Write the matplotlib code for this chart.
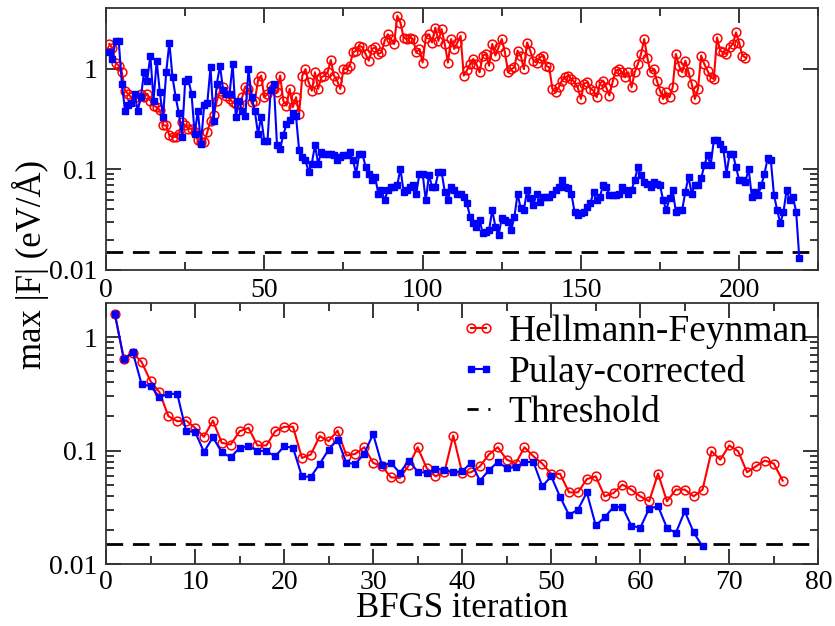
import numpy as np
import matplotlib
matplotlib.use("Agg")
import matplotlib.pyplot as plt
from matplotlib.lines import Line2D
from matplotlib.legend_handler import HandlerLine2D
from matplotlib.ticker import FixedLocator, NullFormatter, MultipleLocator

plt.rcParams['font.family'] = ['Liberation Serif', 'DejaVu Serif']
plt.rcParams['mathtext.fontset'] = 'stix'

# ---------------- data ----------------
top_pulay = [
    # iterations 1-58
    1.45, 1.25, 1.89, 1.89, 0.71, 0.38, 0.44, 0.46, 0.56, 0.38, 0.52, 0.92, 0.76, 1.35,
    0.48, 1.20, 0.58, 0.33, 0.92, 1.82, 0.82, 0.52, 0.36, 0.21, 0.76, 0.79, 0.56, 0.225,
    0.38, 0.18, 0.44, 0.46, 1.03, 0.30, 0.71, 1.07, 0.61, 0.56, 0.56, 1.11, 0.33, 0.48,
    0.38, 0.34, 0.99, 0.52, 0.38, 0.225, 0.33, 0.19, 0.19, 0.61, 0.71, 0.175, 0.16, 0.22,
    0.28, 0.31,
    # 59-115
    0.36, 0.34, 0.154, 0.132, 0.123, 0.094, 0.114, 0.173, 0.114, 0.148, 0.143, 0.143,
    0.143, 0.138, 0.123, 0.132, 0.138, 0.138, 0.148, 0.123, 0.0905, 0.143, 0.143, 0.105,
    0.0905, 0.078, 0.084, 0.057, 0.062, 0.049, 0.062, 0.067, 0.067, 0.0695, 0.1016,
    0.0597, 0.062, 0.067, 0.0695, 0.057, 0.0905, 0.0905, 0.049, 0.087, 0.067, 0.067,
    0.094, 0.094, 0.0597, 0.049, 0.067, 0.062, 0.057, 0.057, 0.053, 0.0457, 0.0337,
    # 116-172
    0.029, 0.0268, 0.0313, 0.0231, 0.0239, 0.0249, 0.0393, 0.0268, 0.0222, 0.0325,
    0.0313, 0.0301, 0.0249, 0.0337, 0.057, 0.0408, 0.0393, 0.062, 0.0513, 0.044,
    0.057, 0.0475, 0.053, 0.053, 0.053, 0.057, 0.062, 0.067, 0.078, 0.067,
    0.0644, 0.057, 0.0378, 0.035, 0.0364, 0.0378, 0.0424, 0.0457, 0.0597, 0.049,
    0.053, 0.0695, 0.067, 0.0553, 0.0553, 0.0553, 0.057, 0.067, 0.062, 0.057,
    0.062, 0.078, 0.105, 0.087, 0.075, 0.072, 0.067,
    # 173-219
    0.075, 0.072, 0.0695, 0.049, 0.0393, 0.0513, 0.062, 0.0378, 0.0393, 0.0393,
    0.0597, 0.084, 0.057, 0.0695, 0.0695, 0.081, 0.1096, 0.138, 0.1096, 0.194,
    0.194, 0.18, 0.160, 0.0905, 0.143, 0.143, 0.105, 0.078, 0.078, 0.075,
    0.1016, 0.053, 0.0597, 0.0553, 0.0695, 0.0905, 0.128, 0.123, 0.0553, 0.0393,
    0.029, 0.0378, 0.062, 0.049, 0.053, 0.0378, 0.0131,
]

top_hf = [
    # 1-58
    1.76, 1.6, 1.15, 1.07, 0.92, 0.605, 0.56, 0.52, 0.48, 0.52,
    0.56, 0.52, 0.56, 0.48, 0.43, 0.414, 0.384, 0.273, 0.273, 0.217,
    0.21, 0.21, 0.225, 0.294, 0.273, 0.253, 0.253, 0.234, 0.194, 0.186,
    0.186, 0.234, 0.305, 0.343, 0.48, 0.605, 0.653, 0.541, 0.50, 0.464,
    0.447, 0.447, 0.52, 0.653, 0.63, 0.464, 0.48, 0.76, 0.853, 0.52,
    0.56, 0.679, 0.63, 0.58, 0.853, 0.48, 0.43, 0.63,
    # 59-115
    0.414, 0.52, 0.356, 0.853, 0.99, 0.733, 0.605, 0.92, 0.63, 0.82,
    0.853, 0.92, 1.22, 0.853, 0.76, 0.63, 0.99, 0.99, 1.07, 1.45,
    1.51, 1.69, 1.63, 1.40, 1.20, 1.57, 1.63, 1.40, 1.45, 1.89,
    2.2, 1.97, 1.76, 3.35, 2.87, 2.04, 1.97, 2.04, 1.97, 1.45,
    1.57, 1.15, 2.04, 2.2, 1.82, 2.56, 1.89, 2.47, 1.76, 1.15,
    1.97, 1.57, 1.82, 2.12, 0.853, 0.96, 1.11,
    # 116-172
    1.25, 1.11, 0.92, 1.35, 1.40, 1.07, 1.76, 1.35, 1.63, 1.97,
    1.45, 0.92, 0.99, 1.03, 1.51, 1.35, 0.99, 1.82, 1.51, 1.20,
    1.15, 1.29, 1.35, 1.07, 1.03, 0.63, 0.58, 0.653, 0.76, 0.82,
    0.853, 0.79, 0.733, 0.653, 0.50, 0.71, 0.733, 0.63, 0.605, 0.52,
    0.71, 0.76, 0.653, 0.541, 0.733, 0.955, 0.99, 0.92, 0.82, 0.92,
    0.653, 0.92, 1.11, 1.40, 1.97, 1.29, 0.92,
    # 173-202
    0.99, 0.76, 0.605, 0.50, 0.58, 0.52, 0.653, 1.40, 1.07, 0.92,
    1.20, 0.92, 0.71, 0.50, 0.63, 1.35, 1.11, 0.955, 0.82, 0.79,
    2.04, 1.51, 1.45, 1.40, 1.63, 1.76, 2.29, 1.82, 1.35, 1.29,
]

bottom_hf = [
    1.585, 0.645, 0.728, 0.602, 0.409, 0.327, 0.201, 0.1815, 0.184, 0.1585,
    0.132, 0.184, 0.117, 0.113, 0.148, 0.1585, 0.111, 0.111, 0.148, 0.162,
    0.162, 0.0861, 0.0923, 0.134, 0.121, 0.15, 0.0904, 0.0935, 0.107, 0.0779,
    0.0727, 0.058, 0.0574, 0.074, 0.107, 0.0703, 0.0593, 0.0644, 0.1357, 0.0635,
    0.0644, 0.0727, 0.0923, 0.107, 0.0833, 0.0768, 0.107, 0.089, 0.0768, 0.0623,
    0.0623, 0.0428, 0.0428, 0.056, 0.0593, 0.0395, 0.0423, 0.0501, 0.0453, 0.0395,
    0.0357, 0.0627, 0.0357, 0.0453, 0.0453, 0.0395, 0.0453, 0.0987, 0.0833, 0.111,
    0.0987, 0.0644, 0.0727, 0.0816, 0.0768, 0.0543,
]

bottom_pulay = [
    1.585, 0.636, 0.737, 0.383, 0.37, 0.296, 0.316, 0.316, 0.148, 0.146,
    0.0974, 0.131, 0.0966, 0.0873, 0.1057, 0.109, 0.10, 0.0987, 0.089, 0.109,
    0.1057, 0.0593, 0.0586, 0.0764, 0.102, 0.125, 0.0779, 0.0764, 0.094, 0.140,
    0.074, 0.0779, 0.0635, 0.0816, 0.0653, 0.0635, 0.0689, 0.068, 0.0644, 0.0657,
    0.0779, 0.0543, 0.067, 0.0794, 0.0703, 0.0713, 0.0794, 0.0794, 0.0484, 0.0593,
    0.039, 0.0271, 0.0301, 0.0428, 0.0219, 0.0258, 0.0318, 0.0318, 0.0218, 0.0208,
    0.0308, 0.0323, 0.0208, 0.0188, 0.0292, 0.019, 0.0143,
]

threshold = 0.015
labels = ["Hellmann-Feynman", "Pulay-corrected", "Threshold"]

# ---------------- figure ----------------
fig = plt.figure(figsize=(8.35, 6.26), dpi=100)
ax1 = fig.add_axes([0.127, 0.569, 0.853, 0.418])
ax2 = fig.add_axes([0.127, 0.099, 0.853, 0.417])

red = "#ff0000"
blue = "#0000ff"
hf_style = dict(color=red, lw=1.5, marker='o', ms=6.3, mfc='none', mec=red, mew=1.1)
pu_style = dict(color=blue, lw=1.5, marker='s', ms=4.6, mfc=blue, mec=blue)

def draw(ax, hf, pul):
    x_hf = np.arange(1, len(hf) + 1)
    x_pu = np.arange(1, len(pul) + 1)
    ax.plot(x_hf, hf, zorder=3, **hf_style)
    ax.plot(x_pu, pul, zorder=4, **pu_style)
    ax.axhline(threshold, color='black', lw=2.0, ls=(0, (6, 3.5)), zorder=2)
    ax.set_yscale('log')
    for s in ax.spines.values():
        s.set_linewidth(1.3)
        s.set_color('#333333')
    ax.tick_params(which='both', direction='in', top=True, right=True,
                   labelsize=20, width=1.1, pad=6)
    ax.tick_params(which='major', length=11)
    ax.tick_params(which='minor', length=6)

draw(ax1, top_hf, top_pulay)
ax1.set_xlim(0, 225)
ax1.set_ylim(0.01, 4)
ax1.xaxis.set_major_locator(MultipleLocator(50))
ax1.xaxis.set_minor_locator(MultipleLocator(25))
ax1.yaxis.set_major_locator(FixedLocator([0.01, 0.1, 1]))
ax1.yaxis.set_minor_locator(FixedLocator([0.02, 0.03, 0.04, 0.05, 0.06, 0.07, 0.08, 0.09]))
ax1.yaxis.set_minor_formatter(NullFormatter())
ax1.set_yticklabels(["0.01", "0.1", "1"])

draw(ax2, bottom_hf, bottom_pulay)
ax2.set_xlim(0, 80)
ax2.set_ylim(0.01, 2)
ax2.xaxis.set_major_locator(MultipleLocator(10))
ax2.xaxis.set_minor_locator(MultipleLocator(5))
ax2.yaxis.set_major_locator(FixedLocator([0.01, 0.1, 1]))
minors = [k * 0.01 for k in range(2, 10)] + [k * 0.1 for k in range(2, 10)]
ax2.yaxis.set_minor_locator(FixedLocator(minors))
ax2.yaxis.set_minor_formatter(NullFormatter())
ax2.set_yticklabels(["0.01", "0.1", "1"])
ax2.tick_params(axis='x', which='both', pad=4)

fig.text(0.553, 0.001, "BFGS iteration", fontsize=25, ha='center', va='bottom')

handles = [
    Line2D([], [], **hf_style),
    Line2D([], [], **pu_style),
    Line2D([], [], color='black', lw=2.0, ls=(0, (4, 3.5))),
]
leg = ax2.legend(handles, labels, loc='upper left', bbox_to_anchor=(0.497, 0.955),
                 frameon=False, fontsize=27, numpoints=2, handlelength=1.0,
                 handletextpad=0.3, labelspacing=0.15, borderaxespad=0.0, borderpad=0.0,
                 handler_map={handles[2]: HandlerLine2D(marker_pad=0.19)})

fig.text(0.037, 0.577, "max |F| (eV/Å)", rotation=90, fontsize=25,
         ha='center', va='center')

fig.savefig("out.png", dpi=100)
